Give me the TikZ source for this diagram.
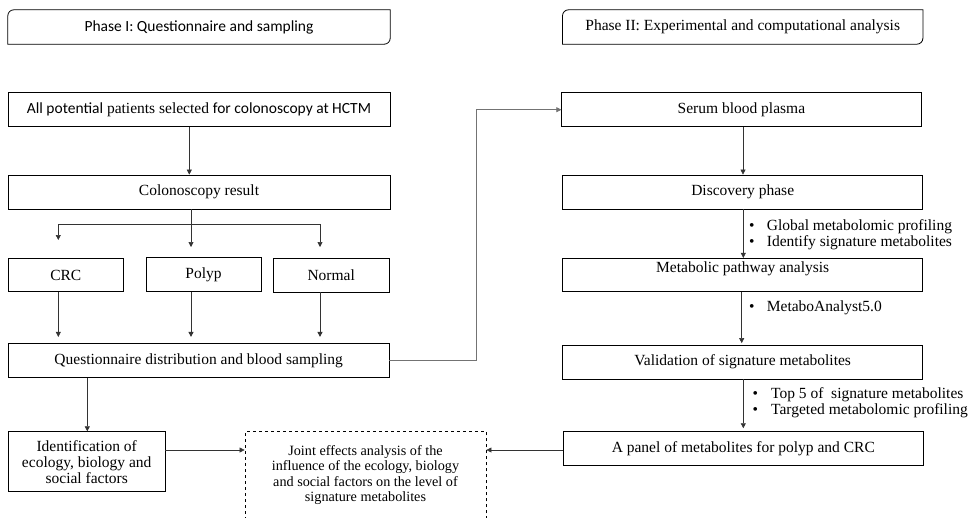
\documentclass[tikz,border=0pt]{standalone}
\usepackage{fontspec}
\setmainfont{Liberation Serif}
\newfontfamily\carl{Carlito}
\usetikzlibrary{arrows.meta,calc}
\begin{document}
\begin{tikzpicture}[x=1pt,y=-1pt,
  box/.style={draw=black,line width=0.8pt,rectangle,inner sep=0pt,align=center,font=\fontsize{15.5}{16}\selectfont},
  plain/.style={draw=none,rectangle,inner sep=0pt,align=center},
  lbl/.style={draw=none,inner sep=0pt,align=left,anchor=base west,font=\fontsize{15.5}{16}\selectfont},
  conn/.style={draw=black!80,line width=0.6pt},
  arr/.style={conn,-{Triangle[length=5pt,width=5pt]}}]
\useasboundingbox (0,0) rectangle (969,517);
\clip (0,0) rectangle (969,517);
% phase headers
\node[plain,minimum width=382pt,minimum height=34pt,font=\carl\fontsize{15.5}{16}\selectfont] (ph1) at (199,27) {Phase I: Questionnaire and sampling};
\node[plain,minimum width=360pt,minimum height=34pt,font=\fontsize{15.5}{16}\selectfont] (ph2) at (742.7,27) {Phase II: Experimental and computational analysis};
\foreach \n in {ph1,ph2}{
  \draw[line width=0.8pt] (\n.south west) -- ([yshift=-6pt]\n.north west) arc[start angle=180,end angle=90,radius=6pt] -- (\n.north east) -- ([yshift=6pt]\n.south east) arc[start angle=0,end angle=-90,radius=6pt] -- cycle;
}
% phase I
\node[box,minimum width=382pt,minimum height=34pt] (allp) at (199,109.7) {{\carl All potential} patients selected {\carl for colonoscopy at HCTM}};
\node[box,minimum width=382pt,minimum height=34pt] (colres) at (199,192) {Colonoscopy result};
\node[box,minimum width=115pt,minimum height=33.4pt] (crc) at (65.8,275) {CRC};
\node[box,minimum width=115pt,minimum height=34.4pt] (polyp) at (203.5,274.5) {Polyp};
\node[box,minimum width=115.7pt,minimum height=33.7pt] (normal) at (331.2,275.2) {Normal};
\node[box,minimum width=380.7pt,minimum height=34.4pt] (quest) at (198.7,360.5) {Questionnaire distribution and blood sampling};
\node[box,minimum width=156.7pt,minimum height=60pt] (ident) at (86.7,461.7) {Identification of\\ ecology, biology and\\ social factors};
\node[box,dashed,minimum width=241pt,minimum height=86.6pt,font=\fontsize{14.2}{15.5}\selectfont] (joint) at (365.5,475) {Joint effects analysis of the\\ influence of the ecology, biology\\ and social factors on the level of\\ signature metabolites};
% phase II
\node[box,minimum width=359.3pt,minimum height=34pt] (serum) at (741.4,109.7) {Serum blood plasma};
\node[box,minimum width=360pt,minimum height=34pt] (disc) at (742.7,192) {Discovery phase};
\node[box,minimum width=360pt,minimum height=33.4pt] (metab) at (742.7,275) {};
\node[plain,font=\fontsize{15.5}{16}\selectfont] (metabt) at (742.7,268.3) {Metabolic pathway analysis};
\node[box,minimum width=360pt,minimum height=34pt] (valid) at (742.7,362) {Validation of signature metabolites};
\node[box,minimum width=360pt,minimum height=33.3pt] (panel) at (743.3,448.3) {A panel of metabolites for polyp and CRC};
% bullet labels
\node[lbl] (b1) at (749,246) {\makebox[17.7pt][l]{\textbullet}Global metabolomic profiling\\\makebox[17.7pt][l]{\textbullet}Identify signature metabolites};
\node[lbl] (b2) at (749,311) {\makebox[17.7pt][l]{\textbullet}MetaboAnalyst5.0};
\node[lbl] (b3) at (752.5,414.3) {\makebox[18.5pt][l]{\textbullet}Top 5 of\ \ signature metabolites\\\makebox[18.5pt][l]{\textbullet}Targeted metabolomic profiling};
% connectors phase I
\draw[arr] ([xshift=-9.7pt]allp.south) -- ([xshift=-9.7pt]colres.north);
\coordinate (br) at (191,224.3);
\coordinate (crcT) at (58.3,240);
\coordinate (polT) at (191,247);
\coordinate (norT) at (320,247);
\coordinate (qx) at (87.3,0);
\draw[conn] (colres.south -| br) -- (br);
\draw[arr] (br) -- (polT);
\draw[arr] (br) -- (br -| crcT) -- (crcT);
\draw[arr] (br) -- (br -| norT) -- (norT);
\draw[arr,shorten >=6pt] (crc.south -| crcT) -- (quest.north -| crcT);
\draw[arr,shorten >=6pt] (polyp.south -| polT) -- (quest.north -| polT);
\draw[arr,shorten >=6pt] (normal.south -| norT) -- (quest.north -| norT);
\draw[arr] (quest.south -| qx) -- (ident.north -| qx);
\coordinate (jy) at (0,450);
\draw[arr] (ident.east |- jy) -- (joint.west |- jy);
% crossing connector
\coordinate (bend) at (476.7,0);
\draw[arr,draw=black!55] (quest.east) -- (quest.east -| bend) -- (serum.west -| bend) -- (serum.west);
% connectors phase II
\draw[arr] ([xshift=1.6pt]serum.south) -- ([xshift=1.6pt]serum.south |- disc.north);
\draw[arr] ([xshift=0.6pt]disc.south) -- ([xshift=0.6pt]disc.south |- metab.north);
\draw[arr,shorten >=1.5pt] ([xshift=-1pt]metab.south) -- ([xshift=-1pt]metab.south |- valid.north);
\draw[arr,shorten >=3pt] ([xshift=0.6pt]valid.south) -- ([xshift=0.6pt]valid.south |- panel.north);
\draw[arr] (panel.west |- jy) -- (joint.east |- jy);
\end{tikzpicture}
\end{document}
